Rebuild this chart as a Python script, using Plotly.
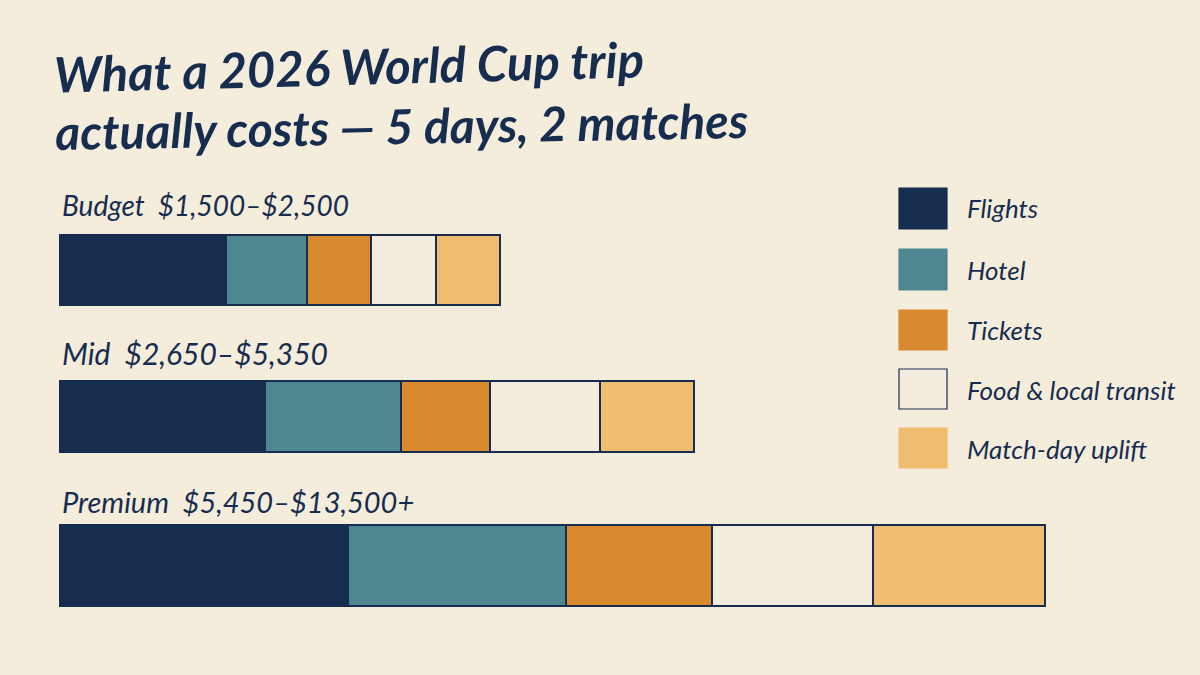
import plotly.graph_objects as go

# Values. Segment lengths are relative bar units, the
# original bars are not drawn to the dollar figures in their labels.
tiers = ['Budget', 'Mid', 'Premium']
price_labels = ['$1,500–$2,500', '$2,650–$5,350', '$5,450–$13,500+']
flights = [166, 205, 288]
hotel = [81, 136, 218]
tickets = [64, 89, 146]
food_transit = [65, 110, 161]
match_day = [64, 94, 172]

title_lines = ['What a 2026 World Cup trip', 'actually costs — 5 days, 2 matches']
legend_names = ['Flights', 'Hotel', 'Tickets', 'Food & local transit', 'Match-day uplift']

NAVY = '#172d50'
TEAL = '#4f8790'
ORANGE = '#d98a2f'
OFFWHITE = '#f3ecdf'
SAND = '#efbd70'
PAPER = '#f5eddc'
colors = [NAVY, TEAL, ORANGE, OFFWHITE, SAND]
series = [flights, hotel, tickets, food_transit, match_day]

WIDTH = 1200
HEIGHT = 675
FONT = 'Lato'

# Layout of the rows, in page pixels (the axes map 1:1 on to the page)
bar_left = 60
row_top = [235, 381, 525]
row_height = [70, 71, 81]
row_mid = [t + h / 2 for t, h in zip(row_top, row_height)]
label_y = [205, 353, 501]
label_size = [28, 30, 29]

fig = go.Figure()

for name, values, color in zip(legend_names, series, colors):
    fig.add_trace(go.Bar(
        y=row_mid, x=values, name=name, orientation='h', width=row_height,
        marker=dict(color=color, line=dict(color=NAVY, width=1.2)),
        customdata=tiers,
        hovertemplate='%{customdata}<br>' + name + ': %{x}<extra></extra>',
    ))

annotations = []


def add_text(text, x, y, size, angle=0, weight=400):
    annotations.append(dict(
        text=text, x=x, y=y, xref='x', yref='y', xanchor='left', yanchor='middle',
        showarrow=False, textangle=angle,
        font=dict(family=FONT, size=size, color=NAVY, style='italic', weight=weight),
    ))


# Title, slightly rising like the hand lettering
add_text(title_lines[0], -9, 66, 49, -1.5, 700)
add_text(title_lines[1], -7, 125, 48, -1, 700)

# Row labels
for tier, price, y, size in zip(tiers, price_labels, label_y, label_size):
    add_text(f'{tier}&nbsp;&nbsp;{price}', 0, y, size)

# Legend drawn by hand: big swatches on the right with their labels
shapes = []
swatch_top = [188, 249, 310, 369, 428]
swatch_bottom = [229, 290, 350, 409, 468]
legend_text_y = [208, 270, 330, 390, 449]
for name, color, top, bottom, y in zip(legend_names, colors, swatch_top, swatch_bottom, legend_text_y):
    is_food = name.startswith('Food')
    shapes.append(dict(
        type='rect', xref='x', yref='y', x0=899 - bar_left, x1=947 - bar_left, y0=top, y1=bottom,
        fillcolor=color, line=dict(color=NAVY if is_food else color, width=1.2),
    ))
    add_text(name, 965 - bar_left, y, 26)

fig.update_layout(
    width=WIDTH, height=HEIGHT, autosize=False,
    barmode='stack', showlegend=False,
    paper_bgcolor=PAPER, plot_bgcolor=PAPER,
    margin=dict(l=0, r=0, t=0, b=0),
    xaxis=dict(range=[-bar_left, WIDTH - bar_left], visible=False, fixedrange=True),
    yaxis=dict(range=[HEIGHT, 0], visible=False, fixedrange=True),
    annotations=annotations, shapes=shapes,
)

# the page has a default body margin which would shift the chart by 8px
fig.write_html('out.html', config={'displayModeBar': False},
               post_script="document.body.style.margin='0';document.body.style.background='" + PAPER + "';")
